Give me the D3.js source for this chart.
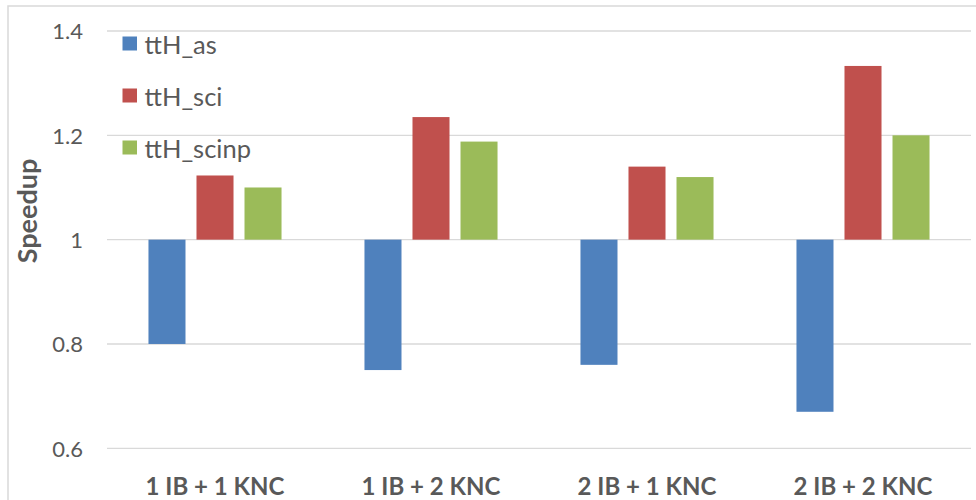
<!DOCTYPE html>
<html>
<head>
<meta charset="utf-8">
<script src="https://cdn.jsdelivr.net/npm/d3@7"></script>
<style>
  html, body { margin: 0; padding: 0; background: #fff; }
  svg { display: block; }
</style>
</head>
<body>
<svg id="chart" width="976" height="500"></svg>
<script>
// Configurations and their measured speedup per workload variant
const categories = ["1 IB + 1 KNC", "1 IB + 2 KNC", "2 IB + 1 KNC", "2 IB + 2 KNC"];
const seriesNames = ["ttH_as", "ttH_sci", "ttH_scinp"];
const ttH_as = [0.80, 0.75, 0.76, 0.67];
const ttH_sci = [1.123, 1.235, 1.14, 1.333];
const ttH_scinp = [1.10, 1.188, 1.12, 1.20];
const yTicks = [0.6, 0.8, 1, 1.2, 1.4];
const colors = ["#4f81bd", "#c0504d", "#9bbb59"];

const seriesValues = [ttH_as, ttH_sci, ttH_scinp];
const baseline = 1;

const svg = d3.select("#chart");
const font = "Lato, 'Open Sans', sans-serif";
const textColor = "#595959";

// Outer chart frame
svg.append("rect")
  .attr("x", 8).attr("y", 6)
  .attr("width", 990).attr("height", 520)
  .attr("fill", "none")
  .attr("stroke", "#d9d9d9")
  .attr("stroke-width", 1.5);

const plot = { left: 107, right: 971, top: 31, bottom: 448.3 };

const y = d3.scaleLinear().domain([0.6, 1.4]).range([plot.bottom, plot.top]);

const x0 = d3.scaleBand()
  .domain(categories)
  .range([plot.left, plot.right])
  .paddingInner(0.384)
  .paddingOuter(0.192);

const x1 = d3.scaleBand()
  .domain(seriesNames)
  .range([0, x0.bandwidth()])
  .paddingInner(0.229);

// Horizontal gridlines
svg.append("g")
  .selectAll("line")
  .data(yTicks)
  .join("line")
  .attr("x1", plot.left).attr("x2", plot.right)
  .attr("y1", d => y(d)).attr("y2", d => y(d))
  .attr("stroke", "#d9d9d9")
  .attr("stroke-width", 1.3);

// Y axis tick labels
const yAxis = d3.axisLeft(y).tickValues(yTicks).tickSize(0).tickPadding(0)
  .tickFormat(d3.format("~g"));
const yAxisG = svg.append("g")
  .attr("transform", `translate(83,0)`)
  .call(yAxis);
yAxisG.select(".domain").remove();
yAxisG.selectAll("text")
  .attr("font-family", font)
  .attr("font-size", 22)
  .attr("fill", textColor)
  .attr("dy", "0.35em");

// Bars, drawn from the baseline of 1 up or down to each value
const groups = svg.append("g")
  .selectAll("g")
  .data(categories)
  .join("g")
  .attr("transform", d => `translate(${x0(d)},0)`);

groups.selectAll("rect")
  .data((c, i) => seriesNames.map((s, j) => ({ s, j, v: seriesValues[j][i] })))
  .join("rect")
  .attr("x", d => x1(d.s))
  .attr("width", x1.bandwidth())
  .attr("y", d => y(Math.max(d.v, baseline)))
  .attr("height", d => Math.abs(y(d.v) - y(baseline)))
  .attr("fill", d => colors[d.j]);

// X axis category labels
const xAxis = d3.axisBottom(x0).tickSize(0).tickPadding(0);
const xAxisG = svg.append("g")
  .attr("transform", `translate(0,495)`)
  .call(xAxis);
xAxisG.select(".domain").remove();
xAxisG.selectAll("text")
  .attr("font-family", font)
  .attr("font-size", 24)
  .attr("font-weight", "bold")
  .attr("fill", textColor)
  .attr("y", 0)
  .attr("dy", 0);

// Y axis title
svg.append("text")
  .attr("transform", "translate(37,211) rotate(-90)")
  .attr("text-anchor", "middle")
  .attr("font-family", font)
  .attr("font-size", 27)
  .attr("font-weight", "bold")
  .attr("fill", textColor)
  .text("Speedup");

// Legend
const legendY = [43.5, 95.5, 147.5];
const legend = svg.append("g")
  .selectAll("g")
  .data(seriesNames)
  .join("g")
  .attr("transform", (d, i) => `translate(122.5,${legendY[i]})`);
legend.append("rect")
  .attr("x", 0).attr("y", -7)
  .attr("width", 14.5).attr("height", 14)
  .attr("fill", (d, i) => colors[i]);
legend.append("text")
  .attr("x", 22)
  .attr("y", 10.5)
  .attr("font-family", font)
  .attr("font-size", 25.5)
  .attr("fill", textColor)
  .text(d => d);
</script>
</body>
</html>
